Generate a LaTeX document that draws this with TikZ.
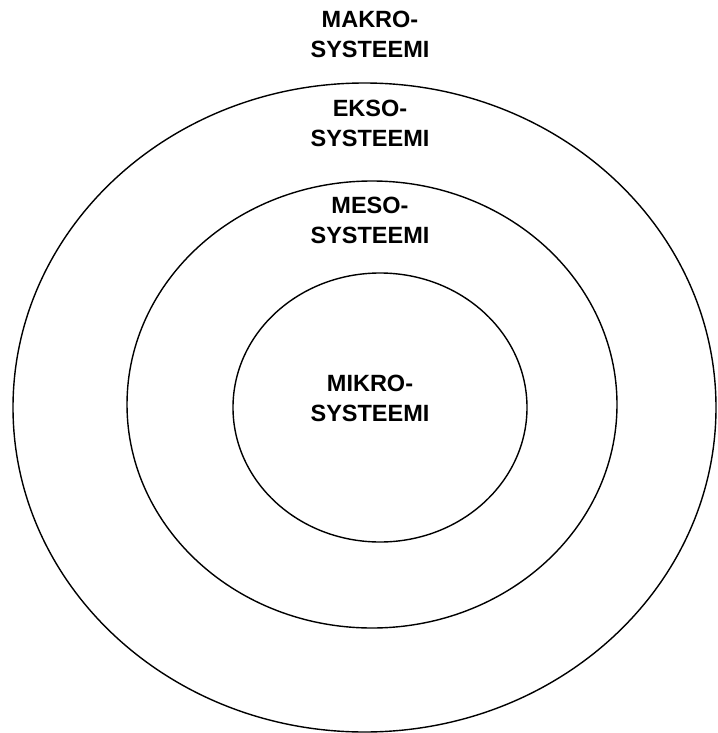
\documentclass[tikz,border=0pt]{standalone}
\usepackage{fontspec}
\setmainfont{Liberation Sans}
\usetikzlibrary{shapes.geometric}
\tikzset{
  sysring/.style={
    draw=black,
    ellipse,
    line width=1.4pt,
    inner sep=0pt
  },
  syslabel/.style={
    font=\fontsize{23.5}{29.5}\selectfont\bfseries,
    align=center,
    anchor=north,
    inner sep=0pt
  }
}
\begin{document}
\begin{tikzpicture}[x=1pt,y=-1pt]
  \useasboundingbox (0,0) rectangle (717,733);
  % nested system rings
  \node[sysring,minimum width=703pt,minimum height=649pt] (makroring) at (364.5,407.5) {};
  \node[sysring,minimum width=490pt,minimum height=447pt] (ekso) at (372,404.5) {};
  \node[sysring,minimum width=294pt,minimum height=269pt] (meso) at (380,407.5) {};
  % labels
  \node[syslabel] (makrolabel) at (370,11) {MAKRO-\\SYSTEEMI};
  \node[syslabel] (eksolabel) at (370,100) {EKSO-\\SYSTEEMI};
  \node[syslabel] (mesolabel) at (370,197) {MESO-\\SYSTEEMI};
  \node[syslabel] (mikrolabel) at (370,375) {MIKRO-\\SYSTEEMI};
\end{tikzpicture}
\end{document}
